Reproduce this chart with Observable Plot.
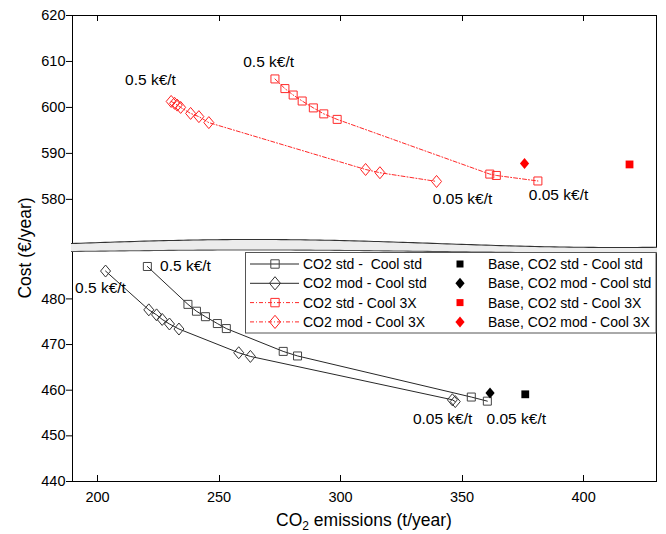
<!DOCTYPE html>
<html><head><meta charset="utf-8">
<script src="https://cdn.jsdelivr.net/npm/d3@7"></script>
<script src="https://cdn.jsdelivr.net/npm/@observablehq/plot@0.6"></script>
<style>
body{margin:0;background:#fff;}
#chart svg{font-family:"Liberation Sans",Arial,Helvetica,sans-serif;}
</style></head><body><div id="chart"></div>
<script>
// ---- data (CO2 emissions t/year, cost €/year) ----
const std3X_x = [273.0, 277.1, 280.5, 284.2, 288.8, 293.1, 298.6, 361.4, 364.1, 381.2];
const std3X_y = [606.2, 604.1, 602.7, 601.4, 599.9, 598.6, 597.4, 585.5, 585.2, 584.0];
const mod3X_x = [230.3, 231.7, 232.8, 234.2, 238.3, 241.7, 245.8, 310.3, 316.2, 339.5];
const mod3X_y = [601.3, 600.9, 600.5, 600.0, 598.7, 598.0, 596.7, 586.5, 585.8, 583.9];
const stdStd_x = [220.5, 237.2, 240.7, 244.4, 249.3, 253.0, 276.4, 282.3, 353.8, 360.4];
const stdStd_y = [487.1, 478.8, 477.3, 476.1, 474.6, 473.5, 468.5, 467.5, 458.5, 457.6];
const modStd_x = [203.3, 221.1, 224.3, 226.6, 229.6, 233.5, 258.1, 262.9, 346.0, 347.2];
const modStd_y = [486.1, 477.6, 476.5, 475.5, 474.5, 473.4, 468.2, 467.4, 457.9, 457.5];

const baseNames = ["Base, CO2 std - Cool std", "Base, CO2 mod - Cool std", "Base, CO2 std - Cool 3X", "Base, CO2 mod - Cool 3X"];
const base_x = [376.0, 361.5, 418.9, 375.7];
const base_y = [459.1, 459.4, 587.6, 587.8];

const seriesNames = ["CO2 std -  Cool std", "CO2 mod - Cool std", "CO2 std - Cool 3X", "CO2 mod - Cool 3X"];

const annText = ["0.5 k€/t", "0.5 k€/t", "0.05 k€/t", "0.05 k€/t", "0.5 k€/t", "0.5 k€/t", "0.05 k€/t", "0.05 k€/t"];
const ann_x = [221.8, 270.4, 350.2, 389.7, 236.2, 201.2, 342.0, 372.3];
const ann_y = [605.9, 609.9, 580.0, 580.9, 487.2, 482.4, 453.7, 453.7];

const xTicks = [200, 250, 300, 350, 400];
const yTicks = [440, 450, 460, 470, 480, 580, 590, 600, 610, 620];
const xDomain = [189.7, 430];
// broken axis: lower panel 440–490.6, upper panel 570.4–620
const yDomain = [440, 490.6, 570.4, 620];
const xTitle = ["CO", "2", " emissions (t/year)"];
const yTitle = "Cost (€/year)";

// ---- layout ----
const W = 666, H = 534, mL = 72, mR = 10, mT = 15, mB = 53;
const yRange = [H - mB, 250, 243, mT];
const FONT = '"Liberation Sans",Arial,Helvetica,sans-serif';

const rows = (xs, ys) => xs.map((x, i) => ({x, y: ys[i]}));
const stdStd = rows(stdStd_x, stdStd_y), modStd = rows(modStd_x, modStd_y);
const std3X = rows(std3X_x, std3X_y), mod3X = rows(mod3X_x, mod3X_y);
const base = base_x.map((x, i) => ({x, y: base_y[i], name: baseNames[i], k: i}));
const ann = annText.map((t, i) => ({t, x: ann_x[i], y: ann_y[i]}));

const sq = {draw(c, s) { const r = Math.sqrt(s / Math.PI); c.moveTo(-r, -r); c.lineTo(r, -r); c.lineTo(r, r); c.lineTo(-r, r); c.closePath(); }};
const dia = {draw(c, s) { const r = Math.sqrt(s / Math.PI), h = r * 1.2; c.moveTo(0, -h); c.lineTo(r, 0); c.lineTo(0, h); c.lineTo(-r, 0); c.closePath(); }};

const dash = "4,2,1,2";
const styles = [
  {stroke: "black", dash: null, sym: sq, mstroke: "#444", r: 4},
  {stroke: "black", dash: null, sym: dia, mstroke: "#333", r: 5},
  {stroke: "red", dash: dash, sym: sq, mstroke: "#ff2a2a", r: 4},
  {stroke: "red", dash: dash, sym: dia, mstroke: "#ff2020", r: 5}
];
const seriesData = [stdStd, modStd, std3X, mod3X];

const plot = Plot.plot({
  width: W, height: H, marginLeft: mL, marginRight: mR, marginTop: mT, marginBottom: mB,
  style: {fontFamily: FONT, fontSize: "14.5px", background: "white", color: "black"},
  x: {domain: xDomain},
  y: {type: "linear", domain: yDomain, range: yRange},
  marks: [
    Plot.frame({stroke: "black", strokeWidth: 1}),
    Plot.axisX({anchor: "bottom", ticks: xTicks, tickSize: 0, tickPadding: 10, label: null, fontSize: 14.5}),
    Plot.axisY({anchor: "left", ticks: yTicks, tickSize: 6, tickPadding: 1, label: null, fontSize: 14.5}),
    ...seriesData.map((d, i) => Plot.line(d, {x: "x", y: "y", stroke: styles[i].stroke, strokeWidth: 0.85, strokeDasharray: styles[i].dash})),
    ...seriesData.map((d, i) => Plot.dot(d, {x: "x", y: "y", symbol: styles[i].sym, r: styles[i].r, stroke: styles[i].mstroke, strokeWidth: 1, fill: "none"})),
    Plot.dot(base.filter(d => d.k % 2 === 0), {x: "x", y: "y", symbol: sq, r: 3.9, fill: d => d.k < 2 ? "black" : "red", stroke: "none"}),
    Plot.dot(base.filter(d => d.k % 2 === 1), {x: "x", y: "y", symbol: dia, r: 4.6, fill: d => d.k < 2 ? "black" : "red", stroke: "none"}),
    Plot.text(ann, {x: "x", y: "y", text: "t", fontSize: 15.5, fill: "black"})
  ]
});
document.getElementById("chart").appendChild(plot);

// ---- overlays: inward x ticks, axis break, legend, titles ----
const svg = d3.select(plot);
const xs_ = plot.scale("x");
const x0 = mL, x1 = W - mR, yb = H - mB;
const tk = svg.append("g").attr("stroke", "black").attr("stroke-width", 1);
xTicks.forEach(v => {
  const px = Math.round(xs_.apply(v)) + 0.5;
  tk.append("line").attr("x1", px).attr("x2", px).attr("y1", yb).attr("y2", yb - 6);
  tk.append("line").attr("x1", px).attr("x2", px).attr("y1", mT).attr("y2", mT + 6);
});

const topEdge = x => 243.5 - 4 * Math.sin(2 * Math.PI * 0.8 * (x - x0) / (x1 - x0));
const botEdge = x => 251.5 - 1.5 * Math.sin(2 * Math.PI * 0.8 * (x - x0) / (x1 - x0));
const xs = d3.range(0, 121).map(i => x0 - 1 + i * (x1 - x0 + 2) / 120);
const g = svg.append("g");
g.append("path")
  .attr("d", d3.area().x(d => d).y0(botEdge).y1(topEdge)(xs))
  .attr("fill", "#ececec").attr("stroke", "none");
g.append("path").attr("d", d3.line().x(d => d).y(topEdge)(xs)).attr("fill", "none").attr("stroke", "#333").attr("stroke-width", 1.1);
g.append("path").attr("d", d3.line().x(d => d).y(botEdge)(xs)).attr("fill", "none").attr("stroke", "#555").attr("stroke-width", 1.1);

// legend
const lg = svg.append("g").attr("font-family", FONT).attr("font-size", 14).attr("text-anchor", "start");
lg.append("rect").attr("x", 245.5).attr("y", 252.5).attr("width", x1 - 245.5).attr("height", 80.5)
  .attr("fill", "white").attr("stroke", "#555").attr("stroke-width", 1);
const rowY = [264, 283.3, 302.6, 321.9];
const symPath = (sym, r) => { const p = d3.path(); sym.draw(p, Math.PI * r * r); return p.toString(); };
seriesNames.forEach((name, i) => {
  const s = styles[i], y = rowY[i];
  lg.append("line").attr("x1", 250).attr("x2", 299).attr("y1", y).attr("y2", y)
    .attr("stroke", s.stroke).attr("stroke-width", 0.85).attr("stroke-dasharray", s.dash);
  lg.append("path").attr("d", symPath(s.sym, i % 2 ? 5.5 : 4.2)).attr("transform", `translate(275,${y})`)
    .attr("fill", "none").attr("stroke", s.mstroke);
  lg.append("text").attr("x", 303).attr("y", y).attr("dy", "0.35em").attr("text-anchor", "start")
    .style("white-space", "pre").text(name);
});
baseNames.forEach((name, i) => {
  const y = rowY[i];
  lg.append("path").attr("d", symPath(i % 2 ? dia : sq, i % 2 ? 4.6 : 3.5)).attr("transform", `translate(460,${y})`)
    .attr("fill", i < 2 ? "black" : "red");
  lg.append("text").attr("x", 488).attr("y", y).attr("dy", "0.35em").attr("text-anchor", "start").text(name);
});

// axis titles
const xt = svg.append("text").attr("x", (x0 + x1) / 2).attr("y", 526).attr("text-anchor", "middle")
  .attr("font-family", FONT).attr("font-size", 17.5).attr("fill", "black");
xt.append("tspan").text(xTitle[0]);
xt.append("tspan").attr("font-size", 12).attr("dy", 4).text(xTitle[1]);
xt.append("tspan").attr("dy", -4).style("white-space", "pre").text(xTitle[2]);
svg.append("text").attr("transform", `translate(31,${(mT + H - mB) / 2}) rotate(-90)`).attr("text-anchor", "middle")
  .attr("font-family", FONT).attr("font-size", 17.5).attr("fill", "black").text(yTitle);
</script>
</body></html>
